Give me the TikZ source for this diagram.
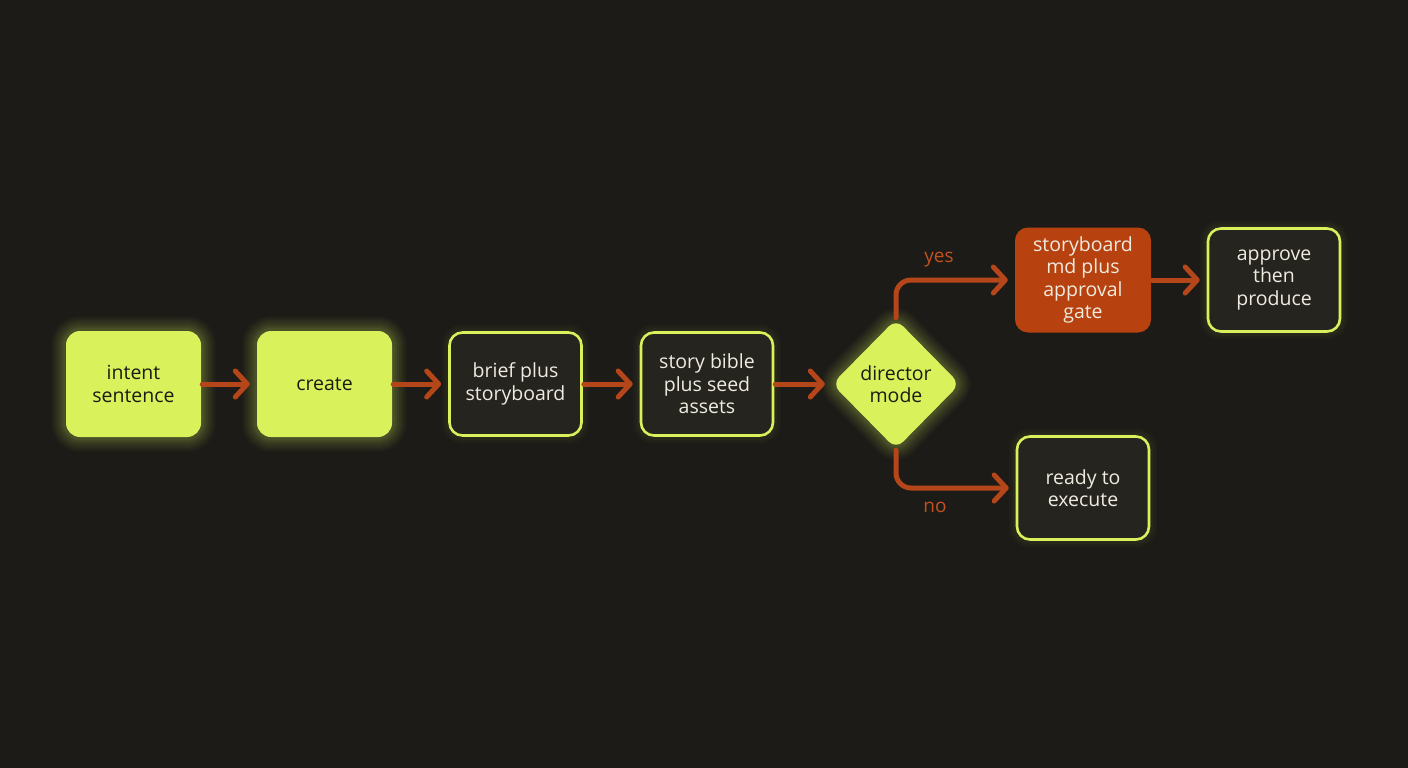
\documentclass[tikz,border=0pt]{standalone}
\usepackage{fontspec}
\setmainfont{Open Sans}
\usetikzlibrary{arrows.meta,shapes.geometric}
\definecolor{bg}{HTML}{1D1B17}
\definecolor{lime}{HTML}{D9F25C}
\definecolor{boxdark}{HTML}{26241F}
\definecolor{orng}{HTML}{B7420F}
\definecolor{arr}{HTML}{B4461A}
\definecolor{lbl}{HTML}{C2511F}
\definecolor{lighttext}{HTML}{EFEBE0}
\definecolor{darktext}{HTML}{1B1B14}
\tikzset{
  x=1pt, y=-1pt,
  txt/.style={font=\fontsize{19.5}{22.5}\selectfont, align=center},
  glow/.style={
    preaction={draw=lime, draw opacity=0.025, line width=30pt},
    preaction={draw=lime, draw opacity=0.03, line width=26pt},
    preaction={draw=lime, draw opacity=0.035, line width=22pt},
    preaction={draw=lime, draw opacity=0.04, line width=18pt},
    preaction={draw=lime, draw opacity=0.045, line width=14pt},
    preaction={draw=lime, draw opacity=0.05, line width=10pt},
    preaction={draw=lime, draw opacity=0.06, line width=6pt}},
  softglow/.style={
    preaction={draw=lime, draw opacity=0.02, line width=16pt},
    preaction={draw=lime, draw opacity=0.025, line width=12pt},
    preaction={draw=lime, draw opacity=0.03, line width=8pt}},
  limebox/.style={txt, rectangle, rounded corners=14pt, fill=lime, text=darktext,
    minimum width=135pt, minimum height=106pt, inner sep=0pt, glow},
  darkbox/.style={txt, rectangle, rounded corners=13pt, fill=boxdark, draw=lime,
    line width=2.6pt, text=lighttext, minimum width=132pt, minimum height=103pt,
    inner sep=0pt, softglow},
  orangebox/.style={txt, rectangle, rounded corners=13pt, fill=orng, text=lighttext,
    minimum width=136pt, minimum height=105pt, inner sep=0pt},
  decision/.style={txt, diamond, fill=lime, text=darktext, rounded corners=10pt,
    minimum width=128pt, minimum height=130pt, inner sep=0pt, glow},
  flow/.style={draw=arr, line width=5pt, line cap=round, line join=round,
    -{Straight Barb[length=12pt, width=26pt, line cap=round, line join=round]},
    shorten <=1pt, shorten >=7pt},
  branch/.style={flow, rounded corners=15pt},
  lab/.style={font=\fontsize{19}{22}\selectfont, text=lbl}
}
\begin{document}
\begin{tikzpicture}
\fill[bg] (0,0) rectangle (1408,768);
\useasboundingbox (0,0) rectangle (1408,768);

\node[limebox] (intent) at (133.5,384) {intent\\sentence};
\node[limebox] (create) at (324.5,384) {create};
\node[darkbox] (brief) at (515.5,384) {brief plus\\storyboard};
\node[darkbox] (bible) at (707,384) {story bible\\plus seed\\assets};
\node[decision] (dir) at (896,384) {director\\mode};
\node[orangebox] (sbmd) at (1083,280) {storyboard\\md plus\\approval\\gate};
\node[darkbox] (approve) at (1274,280) {approve\\then\\produce};
\node[darkbox] (ready) at (1083,488) {ready to\\execute};

\draw[flow] (intent.east) -- (create.west);
\draw[flow] (create.east) -- (brief.west);
\draw[flow] (brief.east) -- (bible.west);
\draw[flow] (bible.east) -- (dir.west);
\draw[branch] (dir.north) |- (sbmd.west);
\draw[branch] (dir.south) |- (ready.west);
\draw[flow] (sbmd.east) -- (approve.west);

\node[lab] (yes) at (939,260) {yes};
\node[lab] (no) at (935,507) {no};
\end{tikzpicture}
\end{document}
